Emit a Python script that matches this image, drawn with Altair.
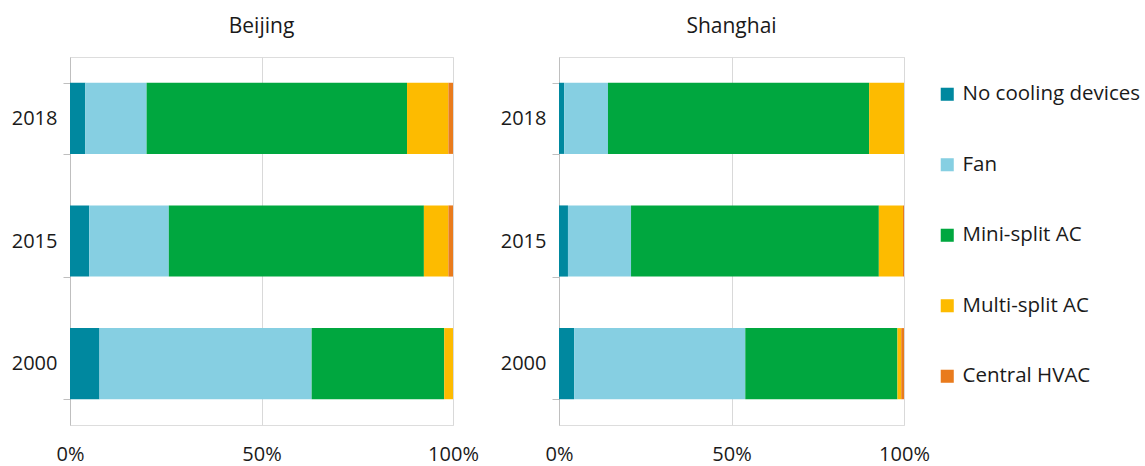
import altair as alt
import pandas as pd

categories = ["No cooling devices", "Fan", "Mini-split AC", "Multi-split AC", "Central HVAC"]
colors = ["#00889F", "#86CFE2", "#00A73F", "#FDBB00", "#E97B1D"]
years = ["2018", "2015", "2000"]

beijing_2018 = [4.0, 16.0, 68.0, 10.8, 1.2]
beijing_2015 = [5.0, 20.8, 66.6, 6.4, 1.2]
beijing_2000 = [7.7, 55.4, 34.6, 2.3, 0.0]

shanghai_2018 = [1.5, 12.7, 75.7, 10.1, 0.0]
shanghai_2015 = [2.6, 18.3, 71.9, 7.0, 0.3]
shanghai_2000 = [4.4, 49.6, 44.1, 1.1, 0.8]

def make_df(series):
    rows = []
    for year, vals in series.items():
        for i, (c, v) in enumerate(zip(categories, vals)):
            rows.append({"year": year, "cat": c, "idx": i, "value": v})
    return pd.DataFrame(rows)

df_bj = make_df({"2018": beijing_2018, "2015": beijing_2015, "2000": beijing_2000})
df_sh = make_df({"2018": shanghai_2018, "2015": shanghai_2015, "2000": shanghai_2000})

FONT = "Open Sans"
TXT = "#1a1a1a"

def panel(df, title, width, show_legend):
    legend = None
    if show_legend:
        legend = alt.Legend(title=None, orient="none", legendX=867, legendY=27,
                            symbolType="square", symbolSize=170,
                            symbolStrokeWidth=0, labelFontSize=20.5,
                            labelFont=FONT, labelColor=TXT, labelLimit=0,
                            rowPadding=49.5, labelOffset=5, padding=0)
    return alt.Chart(df, title=alt.Title(title, fontSize=21, font=FONT, fontWeight="normal",
                                         color=TXT, offset=10)).mark_bar().encode(
        x=alt.X("value:Q", stack="normalize",
                scale=alt.Scale(domain=[0, 1], nice=False),
                axis=alt.Axis(values=[0, 0.5, 1], format="%", title=None, domain=False,
                              ticks=False, grid=True, gridColor="#D9D9D9",
                              labelFontSize=20, labelFont=FONT, labelColor=TXT,
                              labelFlush=False, labelPadding=19)),
        y=alt.Y("year:N", sort=years,
                scale=alt.Scale(paddingInner=0.42, paddingOuter=0.21),
                axis=alt.Axis(title=None, domain=True, domainColor="#BFBFBF", ticks=True,
                              tickColor="#BFBFBF", tickSize=7, tickBand="extent",
                              labelFontSize=20, labelFont=FONT, labelColor=TXT,
                              labelPadding=6, grid=False)),
        color=alt.Color("cat:N", scale=alt.Scale(domain=categories, range=colors),
                        legend=legend),
        order=alt.Order("idx:Q", sort="ascending"),
    ).properties(width=width, height=368)

chart = alt.hconcat(
    panel(df_bj, "Beijing", 383, True),
    panel(df_sh, "Shanghai", 345, False),
    spacing=20,
).properties(
    padding={"left": 10, "top": 15, "right": 0, "bottom": 0}
).configure_view(stroke=None).configure(background="white")

chart.save("out.html", embed_options={"renderer": "svg", "actions": False})
